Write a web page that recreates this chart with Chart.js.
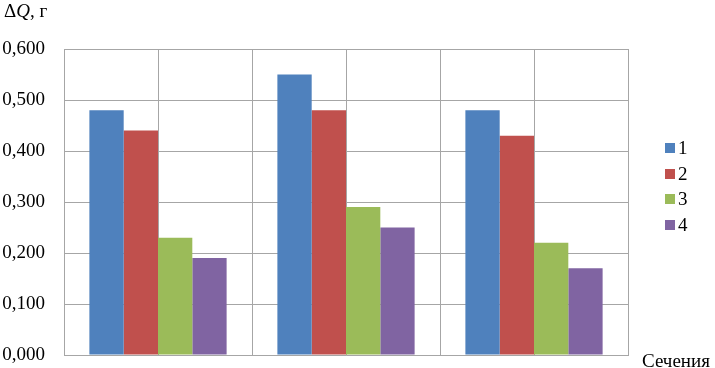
<!DOCTYPE html>
<html>
<head>
<meta charset="utf-8">
<script src="https://cdn.jsdelivr.net/npm/chart.js@4.4.1/dist/chart.umd.min.js"></script>
<style>
  html, body { margin: 0; padding: 0; background: #fff; }
</style>
</head>
<body>
<canvas id="myChart" width="715" height="368"></canvas>
<script>
// data
const sections = ["", "", ""];
const seriesNames = ["1", "2", "3", "4"];
const s1 = [0.48, 0.55, 0.48];
const s2 = [0.44, 0.48, 0.43];
const s3 = [0.23, 0.29, 0.22];
const s4 = [0.19, 0.25, 0.17];
const yMin = 0;
const yMax = 0.6;
const yStep = 0.1;

const colors = ["#4F81BD", "#C0504D", "#9BBB59", "#8064A2"];
const serif = "'Liberation Serif', 'Times New Roman', serif";
const gridColor = "#a6a6a6";

// axis titles and legend, drawn on top of the chart
const extras = {
  id: "extras",
  afterDraw(chart) {
    const c = chart.ctx;
    c.save();
    c.fillStyle = "#000";
    c.textBaseline = "alphabetic";
    c.textAlign = "left";
    // "ΔQ, г"
    let x = 4;
    c.font = "19px " + serif;
    c.fillText("Δ", x, 17);
    x += c.measureText("Δ").width;
    c.font = "italic 19px " + serif;
    c.fillText("Q", x, 17);
    x += c.measureText("Q").width;
    c.font = "19px " + serif;
    c.fillText(", г", x, 17);
    // "Сечения"
    c.fillText("Сечения", 642, 367);
    // legend
    c.textBaseline = "middle";
    chart.data.datasets.forEach((ds, i) => {
      const y = 148 + i * 25.7;
      c.fillStyle = ds.backgroundColor;
      c.fillRect(665, Math.round(y - 5), 10, 10);
      c.fillStyle = "#000";
      c.fillText(ds.label, 678, y + 1);
    });
    c.restore();
  },
};

const noHeight = (scale) => { scale.height = 0; };

new Chart(document.getElementById("myChart"), {
  type: "bar",
  data: {
    labels: sections,
    datasets: [s1, s2, s3, s4].map((d, i) => ({
      label: seriesNames[i],
      data: d,
      backgroundColor: colors[i],
      borderWidth: 0,
      categoryPercentage: 0.73,
      barPercentage: 1.0,
    })),
  },
  options: {
    responsive: false,
    animation: false,
    layout: { padding: { top: 49, right: 87, bottom: 13, left: 0 } },
    plugins: {
      legend: { display: false },
      tooltip: { enabled: false },
    },
    scales: {
      x: {
        offset: true,
        grid: { offset: true, color: gridColor, drawTicks: false },
        border: { color: gridColor },
        ticks: { display: false },
        afterFit: noHeight,
      },
      x2: {
        position: "bottom",
        offset: true,
        grid: { offset: false, color: gridColor, drawTicks: false },
        border: { display: false },
        ticks: { display: false },
        afterFit: noHeight,
      },
      y: {
        min: yMin,
        max: yMax,
        grid: { color: gridColor, drawTicks: false },
        border: { color: gridColor },
        afterFit(scale) {
          scale.width = 64;
          scale.paddingTop = 0;
          scale.paddingBottom = 0;
        },
        ticks: {
          stepSize: yStep,
          padding: 19,
          color: "#000",
          font: { family: serif, size: 19 },
          callback: (v) => v.toFixed(3).replace(".", ","),
        },
      },
    },
  },
  plugins: [extras],
});
</script>
</body>
</html>
